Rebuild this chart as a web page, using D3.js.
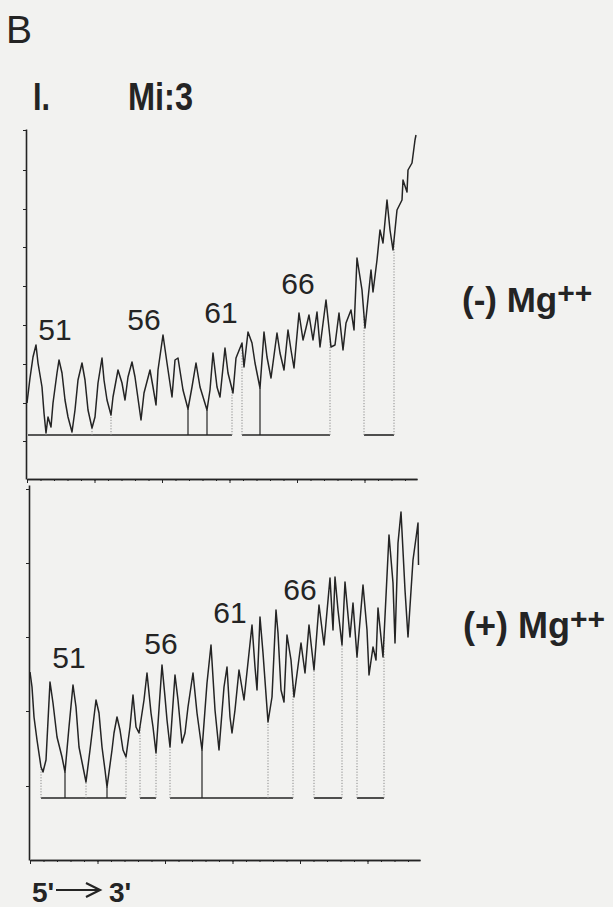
<!DOCTYPE html>
<html>
<head>
<meta charset="utf-8">
<script src="https://cdn.jsdelivr.net/npm/d3@7"></script>
<style>
  body { margin: 0; background: #f2f2f0; }
</style>
</head>
<body>
<div id="figure"></div>
<script>
// scan position (mm) vs relative optical density

// (-) Mg++ trace
const minusMgTrace = [
  [0,7.6],[0.3,10.1],[0.6,12.2],[0.9,13.4],[1.1,11.6],[1.5,9.2],[1.7,6.6],[1.9,4.6],[2.1,6.2],[2.4,5.2],
  [2.6,7.6],[3.0,10.6],[3.2,11.9],[3.5,10.6],[3.8,7.9],[4.1,6.2],[4.5,4.7],[4.8,6.9],[5.1,9.9],[5.5,11.6],
  [5.8,9.9],[6.1,6.9],[6.5,5.1],[6.8,6.2],[7.1,9.6],[7.5,12.1],[7.7,9.9],[8.0,7.9],[8.4,6.4],[8.6,8.2],
  [9.1,10.9],[9.5,9.6],[9.8,7.9],[10.1,10.2],[10.5,11.7],[10.8,10.2],[11.4,5.9],[11.7,8.6],[12.3,10.9],[12.6,9.2],
  [12.9,7.4],[13.1,10.9],[13.6,14.4],[14.0,11.6],[14.5,8.2],[14.8,11.9],[15.1,12.1],[15.6,8.9],[16.1,7.0],[16.5,9.2],
  [16.9,11.6],[17.3,9.2],[18.0,6.9],[18.3,8.9],[18.6,12.6],[19.0,9.2],[19.3,8.2],[19.8,13.1],[20.1,10.6],[20.6,8.6],
  [20.9,12.1],[21.5,13.6],[21.7,11.2],[22.1,14.7],[22.5,13.6],[22.8,11.6],[23.3,9.1],[23.7,14.7],[24.0,12.2],[24.4,10.1],
  [25.0,14.6],[25.3,12.6],[25.7,10.9],[26.1,14.9],[26.4,12.9],[26.7,11.1],[27.2,16.6],[27.6,13.9],[27.9,15.1],[28.2,16.4],
  [28.6,13.9],[29.0,16.7],[29.3,13.2],[29.9,17.9],[30.4,13.2],[30.8,13.4],[31.2,16.6],[31.6,12.9],[31.9,15.6],[32.4,16.9],
  [32.7,14.9],[33.0,22.1],[33.5,18.9],[33.8,15.1],[34.4,20.9],[34.6,18.7],[35.0,21.9],[35.3,24.9],[35.6,23.6],[36.0,27.9],
  [36.3,24.9],[36.6,22.9],[37.0,26.9],[37.5,27.9],[37.6,29.9],[38.0,28.7],[38.1,30.9],[38.5,31.6],[38.8,33.9],[38.9,34.4]
];

// (+) Mg++ trace
const plusMgTrace = [
  [0,18.8],[0.2,17.3],[0.4,14.3],[0.7,12.0],[1.1,9.3],[1.3,8.8],[1.6,10.0],[2.0,17.8],[2.3,15.7],[2.7,12.3],
  [3.2,10.3],[3.5,8.8],[3.9,13.3],[4.3,17.5],[4.6,15.3],[4.9,11.3],[5.3,9.3],[5.6,7.8],[6.0,11.0],[6.6,16.0],
  [6.9,14.7],[7.2,11.3],[7.5,9.0],[7.7,7.3],[8.2,11.0],[8.4,12.7],[8.7,14.3],[9.0,13.0],[9.3,11.0],[9.6,10.3],
  [10.0,13.3],[10.3,16.5],[10.6,13.3],[10.9,12.7],[11.4,16.0],[11.7,18.7],[12.1,14.7],[12.3,13.3],[12.6,10.7],[13.2,19.5],
  [13.5,16.3],[13.7,14.0],[14.0,11.3],[14.5,18.5],[14.8,16.0],[15.2,11.7],[15.5,12.7],[15.8,15.3],[16.3,18.7],[16.7,14.7],
  [17.2,11.0],[17.7,17.7],[18.1,21.5],[18.5,15.0],[18.9,11.0],[19.4,17.3],[19.7,19.3],[20.0,14.3],[20.2,12.7],[20.5,15.0],
  [20.9,19.0],[21.4,16.0],[22.2,23.5],[22.5,19.3],[22.7,17.0],[23.0,24.3],[23.3,20.7],[23.8,13.8],[24.2,16.3],[24.6,25.0],
  [24.8,22.7],[25.1,17.0],[25.4,15.8],[25.7,22.5],[26.1,20.0],[26.4,16.3],[27.1,21.7],[27.5,18.7],[27.9,23.5],[28.4,19.0],
  [28.9,25.5],[29.4,21.5],[30.0,28.2],[30.3,23.0],[30.5,28.3],[30.8,25.0],[31.2,21.5],[31.5,27.8],[32.0,22.3],[32.3,25.7],
  [32.7,20.3],[33.3,27.5],[33.7,23.0],[33.9,18.5],[34.3,21.3],[34.6,20.0],[34.8,25.2],[35.3,20.3],[35.9,32.5],[36.3,27.7],
  [36.5,21.7],[36.8,31.7],[37.1,34.8],[37.5,27.0],[37.8,22.3],[38.3,30.0],[38.6,32.2],[38.8,33.7],[38.85,29.5]
];

// band cut positions dropped to the baseline
const minusMgCuts = [1.9, 4.5, 6.5, 8.4, 20.5, 21.5, 30.3, 33.7, 36.7];
const minusMgSolidCuts = [16.1, 18.0, 23.3];
const plusMgCuts = [1.1, 5.6, 9.6, 11.0, 12.6, 14.0, 23.8, 26.3, 28.4, 31.2, 32.7, 35.4];
const plusMgSolidCuts = [3.5, 7.7, 17.2];

// baseline segments [from, to] and baseline level
const minusMgBaseline = [[0.1, 20.5], [21.5, 30.3], [33.7, 36.7]];
const minusMgBaseLevel = 4.4;
const plusMgBaseline = [[1.1, 9.6], [11.0, 12.6], [14.0, 26.3], [28.4, 31.2], [32.7, 35.4]];
const plusMgBaseLevel = 6.2;

// nucleotide labels [text, position, od]
const minusMgLabels = [["51", 2.8, 13.9], ["56", 11.7, 14.9], ["61", 19.4, 15.6], ["66", 27.1, 18.5]];
const plusMgLabels = [["51", 3.9, 19.2], ["56", 13.1, 20.6], ["61", 20.0, 23.7], ["66", 27.0, 26.0]];

// axis ticks
const xMajorTicks = [0, 6.75, 13.5, 20.25, 27, 33.75];
const xMinorTicks = d3.range(0, 39.1, 1.35);
const minusMgYTicks = [3.8, 7.6, 11.5, 15.4, 19.3, 23.2, 27.0, 30.9, 34.9];
const plusMgYTicks = [7.4, 14.9, 22.3, 29.7, 37.1];

const width = 613;
const height = 907;
const ink = "#242424";
const font = "'Liberation Sans', Arial, Helvetica, sans-serif";

const svg = d3.select("#figure")
    .append("svg")
    .attr("width", width)
    .attr("height", height);

svg.append("rect")
    .attr("width", width)
    .attr("height", height)
    .attr("fill", "#f2f2f0");

function styleAxis(g) {
    g.selectAll("path").attr("stroke", ink).attr("stroke-width", 1.6);
    g.selectAll("line").attr("stroke", ink).attr("stroke-width", 1);
}

// linear lookup of the trace value at a scan position
function traceAt(trace, pos) {
    const i = d3.bisector(d => d[0]).left(trace, pos);
    if (i <= 0) return trace[0][1];
    if (i >= trace.length) return trace[trace.length - 1][1];
    const a = trace[i - 1], b = trace[i];
    const t = (pos - a[0]) / (b[0] - a[0]);
    return a[1] + t * (b[1] - a[1]);
}

function drawPanel(cfg) {
    const x = d3.scaleLinear().domain([0, 39]).range(cfg.xRange);
    const y = d3.scaleLinear().domain(cfg.yDomain).range(cfg.yRange);
    const g = svg.append("g");

    // x axis, minor and major ticks
    g.append("g")
        .attr("transform", `translate(0,${cfg.yRange[0]})`)
        .call(d3.axisBottom(x).tickValues(xMinorTicks).tickSize(2).tickSizeOuter(0).tickFormat(""))
        .call(styleAxis);
    g.append("g")
        .attr("transform", `translate(0,${cfg.yRange[0]})`)
        .call(d3.axisBottom(x).tickValues(xMajorTicks).tickSize(4).tickSizeOuter(0).tickFormat(""))
        .call(styleAxis);

    // y axis
    g.append("g")
        .attr("transform", `translate(${cfg.xRange[0] - 1},0)`)
        .call(d3.axisLeft(y).tickValues(cfg.yTicks).tickSize(3).tickSizeOuter(0).tickFormat(""))
        .call(styleAxis);

    // baseline segments
    g.selectAll(".baseSeg")
        .data(cfg.baseline)
        .enter()
        .append("line")
        .attr("x1", d => x(d[0]))
        .attr("x2", d => x(d[1]))
        .attr("y1", y(cfg.baseLevel))
        .attr("y2", y(cfg.baseLevel))
        .attr("stroke", ink)
        .attr("stroke-width", 1.6);

    // dotted cuts
    g.selectAll(".cut")
        .data(cfg.cuts)
        .enter()
        .append("line")
        .attr("x1", d => x(d))
        .attr("x2", d => x(d))
        .attr("y1", y(cfg.baseLevel))
        .attr("y2", d => y(traceAt(cfg.trace, d)))
        .attr("stroke", "#8a8a8a")
        .attr("stroke-width", 1)
        .attr("stroke-dasharray", "1.2,1.6");

    // solid cuts
    g.selectAll(".solidCut")
        .data(cfg.solidCuts)
        .enter()
        .append("line")
        .attr("x1", d => x(d))
        .attr("x2", d => x(d))
        .attr("y1", y(cfg.baseLevel))
        .attr("y2", d => y(traceAt(cfg.trace, d)))
        .attr("stroke", ink)
        .attr("stroke-width", 1.2);

    // trace
    g.append("path")
        .datum(cfg.trace)
        .attr("d", d3.line().x(d => x(d[0])).y(d => y(d[1])))
        .attr("fill", "none")
        .attr("stroke", ink)
        .attr("stroke-width", 1.5)
        .attr("stroke-linejoin", "round");

    // nucleotide numbers
    g.selectAll(".peakLabel")
        .data(cfg.labels)
        .enter()
        .append("text")
        .attr("x", d => x(d[1]))
        .attr("y", d => y(d[2]))
        .attr("text-anchor", "middle")
        .attr("font-family", font)
        .attr("font-size", 30)
        .attr("fill", ink)
        .text(d => d[0]);
}

drawPanel({
    trace: minusMgTrace,
    cuts: minusMgCuts,
    solidCuts: minusMgSolidCuts,
    baseline: minusMgBaseline,
    baseLevel: minusMgBaseLevel,
    labels: minusMgLabels,
    xRange: [27, 417],
    yDomain: [0, 35],
    yRange: [479, 129],
    yTicks: minusMgYTicks
});

drawPanel({
    trace: plusMgTrace,
    cuts: plusMgCuts,
    solidCuts: plusMgSolidCuts,
    baseline: plusMgBaseline,
    baseLevel: plusMgBaseLevel,
    labels: plusMgLabels,
    xRange: [30, 420],
    yDomain: [0, 37.5],
    yRange: [860, 485],
    yTicks: plusMgYTicks
});

// panel letter and titles
svg.append("text")
    .attr("x", 6)
    .attr("y", 43)
    .attr("font-family", font)
    .attr("font-size", 39)
    .attr("fill", ink)
    .text("B");

svg.append("text")
    .attr("x", 33)
    .attr("y", 110)
    .attr("font-family", font)
    .attr("font-weight", "bold")
    .attr("font-size", 38)
    .attr("textLength", 17)
    .attr("lengthAdjust", "spacingAndGlyphs")
    .attr("fill", ink)
    .text("I.");

svg.append("text")
    .attr("x", 128)
    .attr("y", 110)
    .attr("font-family", font)
    .attr("font-weight", "bold")
    .attr("font-size", 38)
    .attr("textLength", 65)
    .attr("lengthAdjust", "spacingAndGlyphs")
    .attr("fill", ink)
    .text("Mi:3");

// condition labels
function mgLabel(txt, xPos, yPos, size) {
    const t = svg.append("text")
        .attr("x", xPos)
        .attr("y", yPos)
        .attr("font-family", font)
        .attr("font-weight", "bold")
        .attr("font-size", size)
        .attr("fill", ink);
    t.append("tspan").text(txt);
    t.append("tspan")
        .attr("dy", -9)
        .attr("font-size", 30)
        .text("++");
}
mgLabel("(-) Mg", 462, 312, 35);
mgLabel("(+) Mg", 463, 638, 36);

// 5' -> 3' direction
svg.append("text")
    .attr("x", 32)
    .attr("y", 902)
    .attr("font-family", font)
    .attr("font-weight", "bold")
    .attr("font-size", 28)
    .attr("fill", ink)
    .text("5'");
svg.append("text")
    .attr("x", 109)
    .attr("y", 902)
    .attr("font-family", font)
    .attr("font-weight", "bold")
    .attr("font-size", 28)
    .attr("fill", ink)
    .text("3'");
svg.append("line")
    .attr("x1", 56)
    .attr("x2", 99)
    .attr("y1", 890)
    .attr("y2", 890)
    .attr("stroke", ink)
    .attr("stroke-width", 2);
svg.append("path")
    .attr("d", "M86,883 L100,890 L86,897")
    .attr("fill", "none")
    .attr("stroke", ink)
    .attr("stroke-width", 2.2);
</script>
</body>
</html>
